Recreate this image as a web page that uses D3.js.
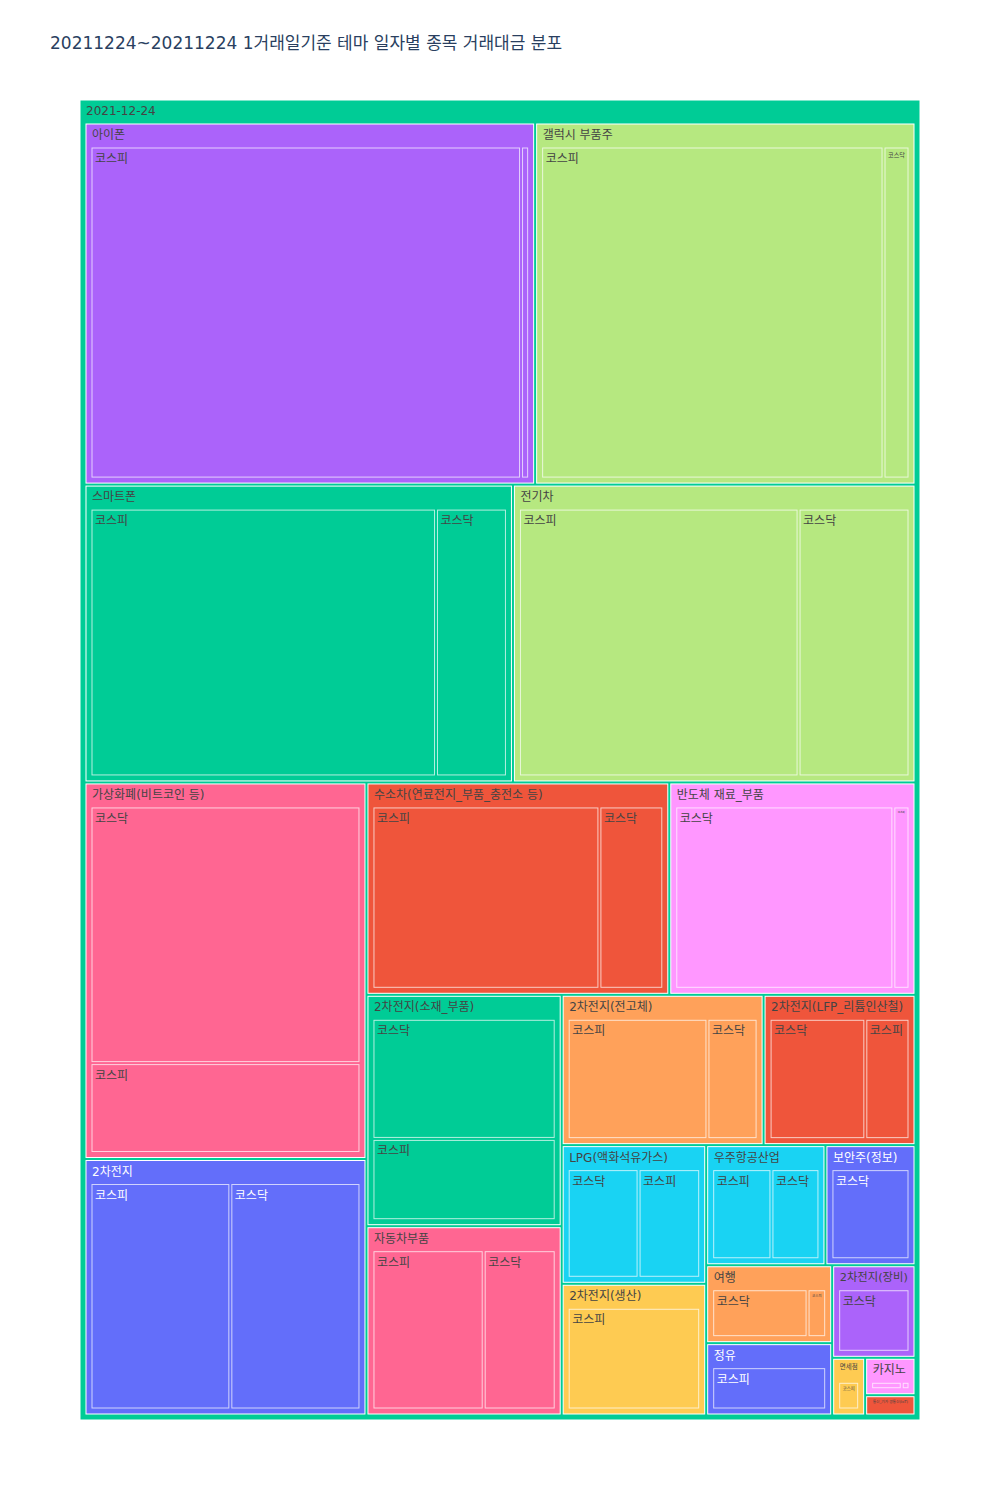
<!DOCTYPE html>
<html><head><meta charset="utf-8">
<script src="https://cdn.jsdelivr.net/npm/d3@7"></script>
<style>
body{margin:0;background:#fff;}
text{font-family:"DejaVu Sans","Noto Sans CJK KR",sans-serif;}
</style>
</head><body>
<svg id="c" width="1000" height="1500"></svg>
<script>
const titleText = "20211224~20211224 1거래일기준 테마 일자별 종목 거래대금 분포";
const rootLabel = "2021-12-24";
const themes = ["아이폰","갤럭시 부품주","스마트폰","전기차","가상화폐(비트코인 등)","수소차(연료전지_부품_충전소 등)","반도체 재료_부품","2차전지","2차전지(소재_부품)","자동차부품","2차전지(전고체)","2차전지(LFP_리튬인산철)","LPG(액화석유가스)","우주항공산업","2차전지(생산)","보안주(정보)","여행","정유","2차전지(장비)","면세점","카지노","통신_기가 광통신(IoT)"];
const markets = [["코스피","코스닥"],["코스피","코스닥"],["코스피","코스닥"],["코스피","코스닥"],["코스닥","코스피"],["코스피","코스닥"],["코스닥","코스피"],["코스피","코스닥"],["코스닥","코스피"],["코스피","코스닥"],["코스피","코스닥"],["코스닥","코스피"],["코스닥","코스피"],["코스피","코스닥"],["코스피"],["코스닥"],["코스닥","코스피"],["코스피"],["코스닥"],["코스피"],["코스닥","코스피"],["코스닥"]];
const amounts = [[159900,3000],[127800,9700],[105700,21700],[85700,34000],[78500,27500],[50100,14100],[48600,3600],[37400,34800],[26900,18200],[22400,14500],[22300,8000],[15600,7200],[10700,9300],[7900,6400],[19000],[10800],[8200,1600],[9100],[7700],[1900],[1500,380],[1020]];
const rootColor = "#00cc96";
const themeColors = ["#ab63fa","#B6E880","#00cc96","#B6E880","#FF6692","#EF553B","#FF97FF","#636efa","#00cc96","#FF6692","#FFA15A","#EF553B","#19d3f3","#19d3f3","#FECB52","#636efa","#FFA15A","#636efa","#ab63fa","#FECB52","#FF97FF","#EF553B"];

const svg = d3.select("#c");
svg.append("text").attr("x", 50).attr("y", 49).attr("font-size", 17).attr("fill", "#2a3f5f").text(titleText);

const data = {name: rootLabel, color: rootColor, children: themes.map((t, i) => ({
  name: t, color: themeColors[i],
  children: markets[i].map((m, j) => ({name: m, color: themeColors[i], value: amounts[i][j]}))
}))};

const root = d3.hierarchy(data).sum(d => d.value || 0).sort((a, b) => b.value - a.value);
d3.treemap().tile(d3.treemapSquarify.ratio(1)).size([840, 1320])
  .paddingInner(3).paddingTop(24).paddingLeft(6).paddingRight(6).paddingBottom(6)(root);

function textColor(c) {
  const r = d3.rgb(c);
  const b = (r.r * 299 + r.g * 587 + r.b * 114) / 1000;
  return b >= 128 ? "#444" : "#fff";
}

const g = svg.append("g").attr("transform", "translate(80,100)");
const nodes = root.descendants().filter(d => d.x1 - d.x0 > 0.5 && d.y1 - d.y0 > 0.5);
const cell = g.selectAll("g.n").data(nodes).join("g").attr("class", "n");
cell.append("rect")
  .attr("x", d => d.x0).attr("y", d => d.y0)
  .attr("width", d => d.x1 - d.x0).attr("height", d => d.y1 - d.y0)
  .attr("fill", d => d.data.color)
  .attr("stroke", "#fff").attr("stroke-width", 1)
  .attr("opacity", d => d.children ? 1 : 0.7);

cell.each(function(d) {
  const w = d.x1 - d.x0, h = d.y1 - d.y0;
  const isLeaf = !d.children;
  const padX = isLeaf ? 3 : 6;
  const t = d3.select(this).append("text")
    .attr("x", d.x0 + padX)
    .attr("font-size", 12)
    .attr("fill", textColor(d.data.color))
    .text(d.data.name);
  const tw = t.node().getComputedTextLength();
  let s = Math.min(1, (w - 2 * padX) / tw);
  if (isLeaf) s = Math.min(s, (h - 4) / 13);
  else s = Math.min(s, (h - 2) / 14);
  const fs = 12 * s;
  if (fs < 2) { t.remove(); return; }
  t.attr("font-size", fs).attr("y", d.y0 + 2.5 + 12.5 * s);
});
</script>
</body></html>
